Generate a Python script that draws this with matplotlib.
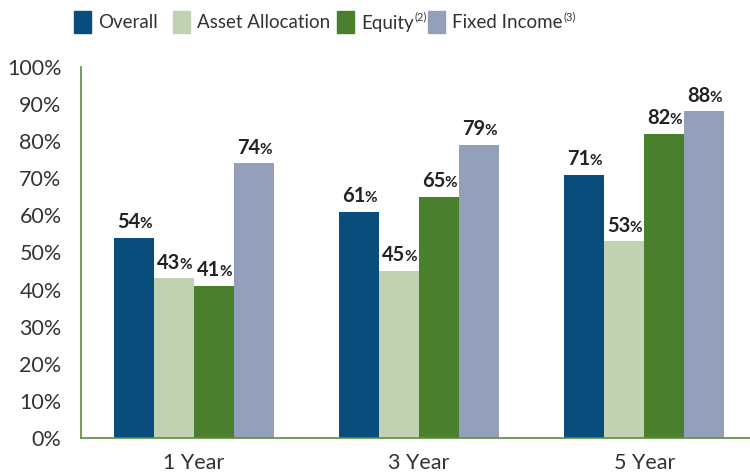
import numpy as np
import matplotlib
matplotlib.use('Agg')
import matplotlib.pyplot as plt
from matplotlib.patches import Rectangle

# Datos
periodos = ['1 Year', '3 Year', '5 Year']
overall = [54, 61, 71]
asset_alloc = [43, 45, 53]
equity = [41, 65, 82]
fixed_income = [74, 79, 88]

series = [overall, asset_alloc, equity, fixed_income]
nombres = ['Overall', 'Asset Allocation', 'Equity', 'Fixed Income']
notas = ['', '', '(2)', '(3)']
colores = ['#084d7c', '#c1d2b2', '#4a802d', '#949fbb']

plt.rcParams['font.family'] = ['Lato', 'DejaVu Sans']
texto = '#333333'
verde = '#5a8f3c'

fig = plt.figure(figsize=(7.5, 4.74), dpi=100)
ax = fig.add_axes([0.108, 0.076, 0.892, 0.7827])

x = np.arange(len(periodos))
ancho = 0.178
for i, (vals, col) in enumerate(zip(series, colores)):
    pos = x + (i - 1.5) * ancho
    ax.bar(pos, vals, width=ancho, color=col, zorder=2)
    for xp, v in zip(pos, vals):
        ax.annotate(str(v), (xp, v), xytext=(4.5, 7), textcoords='offset points',
                    ha='right', va='baseline', fontsize=14.5, fontweight='bold',
                    color='#222222', annotation_clip=False)
        ax.annotate('%', (xp, v), xytext=(4.0, 7), textcoords='offset points',
                    ha='left', va='baseline', fontsize=11, fontweight='bold',
                    color='#222222', annotation_clip=False)

ax.set_xlim(-0.502, 2.47)
ax.set_ylim(0, 100)
ax.set_yticks(np.arange(0, 101, 10))
ax.set_yticklabels([f'{t}%' for t in range(0, 101, 10)])
ax.set_xticks(x)
ax.set_xticklabels(periodos)
ax.tick_params(axis='y', length=0, pad=14, labelsize=15.5, labelcolor=texto)
ax.tick_params(axis='x', length=0, pad=11, labelsize=15.5, labelcolor=texto)
for s in ['top', 'right']:
    ax.spines[s].set_visible(False)
for s in ['left', 'bottom']:
    ax.spines[s].set_color(verde)
    ax.spines[s].set_linewidth(1.2)

# Leyenda manual (cuadros y textos)
renderer = fig.canvas.get_renderer()
leyenda_x = [74, 173, 337, 428]
for lx, nom, nota, col in zip(leyenda_x, nombres, notas, colores):
    fig.patches.append(Rectangle((lx / 750, 1 - 33 / 474), 17 / 750, 22 / 474,
                                 transform=fig.transFigure, color=col))
    t = fig.text((lx + 24) / 750, 1 - 23 / 474, nom, fontsize=13.5, color=texto,
                 va='center')
    if nota:
        bb = t.get_window_extent(renderer)
        fig.text((bb.x1 + 1) / 750, 1 - 17 / 474, nota, fontsize=8, color=texto,
                 va='center')

plt.savefig('out.png', dpi=100)
